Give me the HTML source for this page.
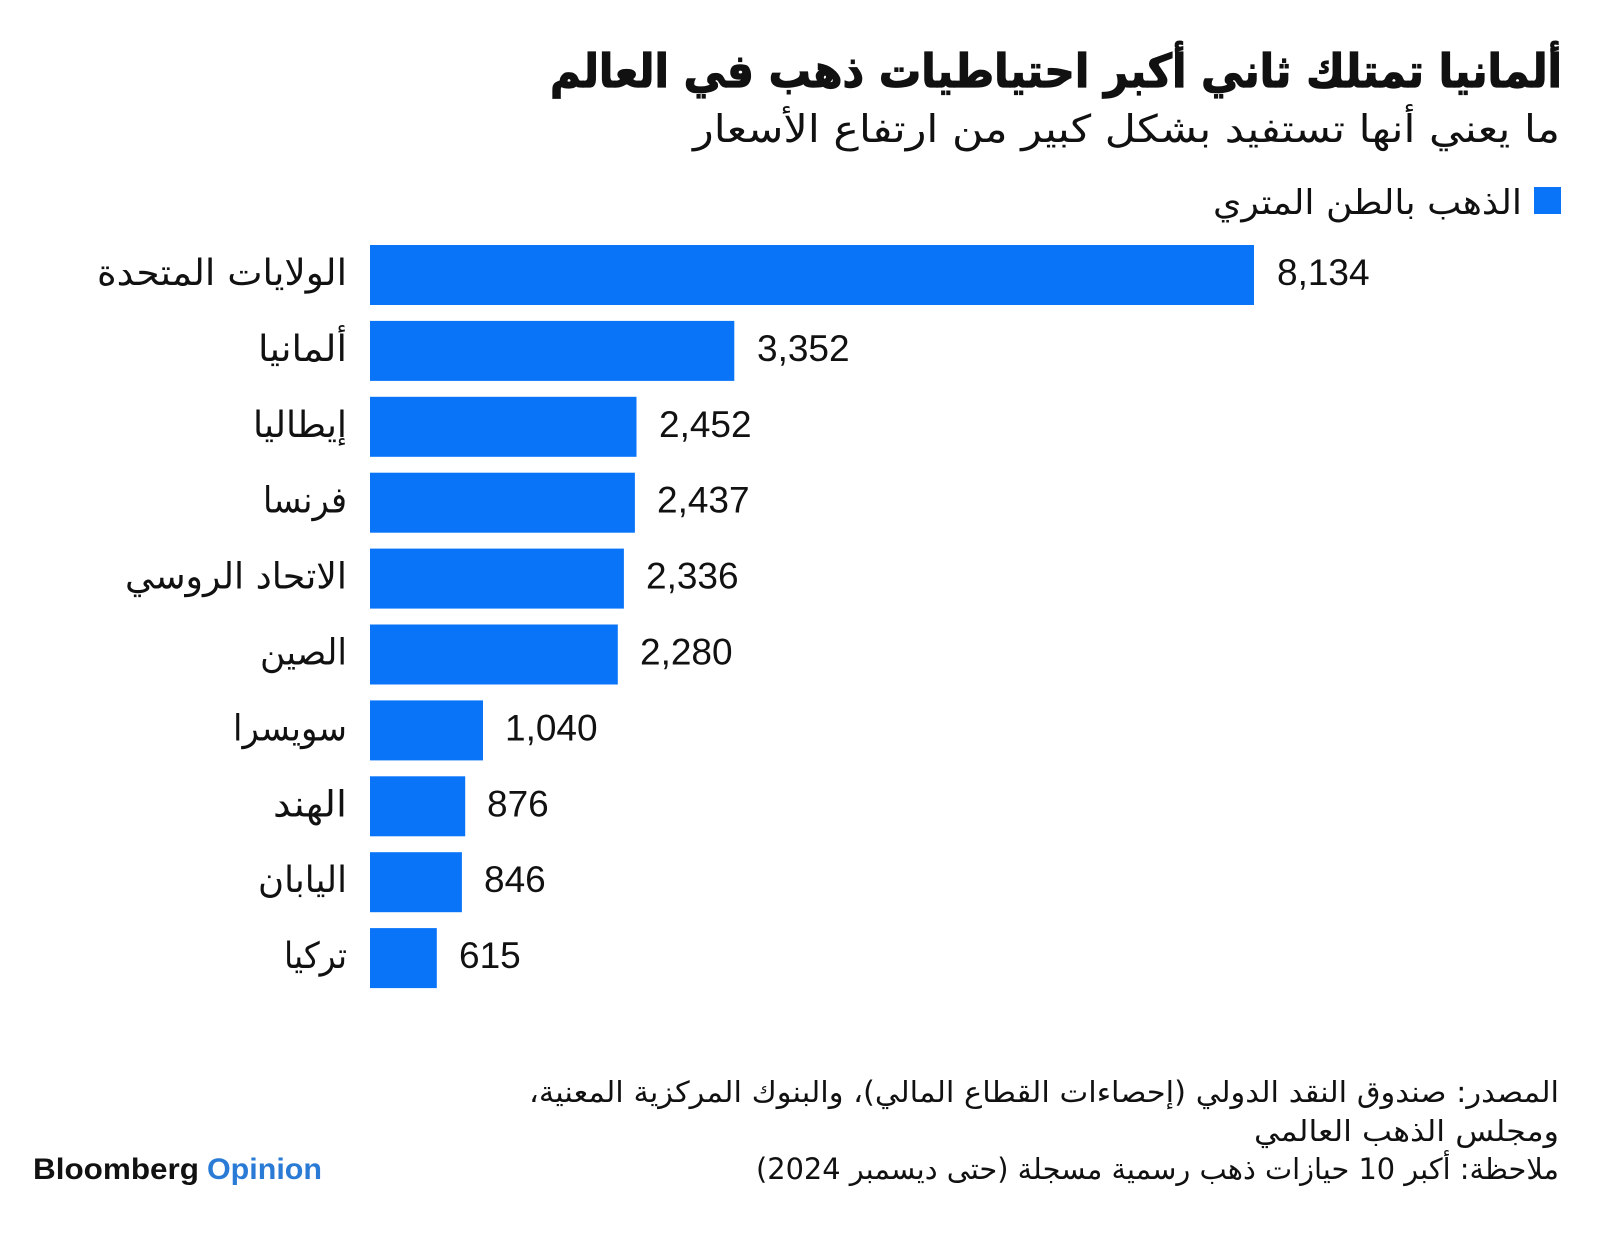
<!DOCTYPE html>
<html>
<head>
<meta charset="utf-8">
<style>
  html, body { margin: 0; padding: 0; background: #ffffff; }
  svg { display: block; }
  .ar { font-family: "DejaVu Sans", "Liberation Sans", sans-serif; fill: #111111; }
  .num { font-family: "Liberation Sans", sans-serif; fill: #111111; font-size: 37px; }
</style>
</head>
<body>
<svg width="1600" height="1234" viewBox="0 0 1600 1234" xmlns="http://www.w3.org/2000/svg">
  <rect x="0" y="0" width="1600" height="1234" fill="#ffffff"/>

  <!-- Title -->
  <text class="ar" x="550" y="87" font-size="46" font-weight="bold" stroke="#111111" stroke-width="1.2" textLength="1012" lengthAdjust="spacingAndGlyphs">ألمانيا تمتلك ثاني أكبر احتياطيات ذهب في العالم</text>
  <!-- Subtitle -->
  <text class="ar" x="693" y="142" font-size="38" textLength="867" lengthAdjust="spacingAndGlyphs">ما يعني أنها تستفيد بشكل كبير من ارتفاع الأسعار</text>

  <!-- Legend -->
  <rect x="1534" y="187" width="27" height="27" fill="#0a74f9"/>
  <text class="ar" x="1213" y="214" font-size="34" textLength="309" lengthAdjust="spacingAndGlyphs">الذهب بالطن المتري</text>

  <!-- Bars -->
  <g fill="#0a74f9">
    <rect x="370" y="245" width="884" height="60"/>
    <rect x="370" y="320.9" width="364.3" height="60"/>
    <rect x="370" y="396.8" width="266.5" height="60"/>
    <rect x="370" y="472.7" width="264.9" height="60"/>
    <rect x="370" y="548.6" width="253.9" height="60"/>
    <rect x="370" y="624.5" width="247.8" height="60"/>
    <rect x="370" y="700.4" width="113" height="60"/>
    <rect x="370" y="776.3" width="95.2" height="60"/>
    <rect x="370" y="852.2" width="91.9" height="60"/>
    <rect x="370" y="928.1" width="66.8" height="60"/>
  </g>

  <!-- Country labels -->
  <g font-size="36">
    <text class="ar" x="97" y="285" textLength="250" lengthAdjust="spacingAndGlyphs">الولايات المتحدة</text>
    <text class="ar" x="258" y="360.9" textLength="89" lengthAdjust="spacingAndGlyphs">ألمانيا</text>
    <text class="ar" x="253" y="436.8" textLength="94" lengthAdjust="spacingAndGlyphs">إيطاليا</text>
    <text class="ar" x="263" y="512.7" textLength="84" lengthAdjust="spacingAndGlyphs">فرنسا</text>
    <text class="ar" x="125" y="588.6" textLength="222" lengthAdjust="spacingAndGlyphs">الاتحاد الروسي</text>
    <text class="ar" x="260" y="664.5" textLength="87" lengthAdjust="spacingAndGlyphs">الصين</text>
    <text class="ar" x="233" y="740.4" textLength="114" lengthAdjust="spacingAndGlyphs">سويسرا</text>
    <text class="ar" x="273" y="816.3" textLength="74" lengthAdjust="spacingAndGlyphs">الهند</text>
    <text class="ar" x="258" y="892.2" textLength="89" lengthAdjust="spacingAndGlyphs">اليابان</text>
    <text class="ar" x="284" y="968.1" textLength="63" lengthAdjust="spacingAndGlyphs">تركيا</text>
  </g>

  <!-- Values -->
  <text class="num" x="1277" y="285">8,134</text>
  <text class="num" x="757" y="360.9">3,352</text>
  <text class="num" x="659" y="436.8">2,452</text>
  <text class="num" x="657" y="512.7">2,437</text>
  <text class="num" x="646" y="588.6">2,336</text>
  <text class="num" x="640" y="664.5">2,280</text>
  <text class="num" x="505" y="740.4">1,040</text>
  <text class="num" x="487" y="816.3">876</text>
  <text class="num" x="484" y="892.2">846</text>
  <text class="num" x="459" y="968.1">615</text>

  <!-- Footer -->
  <g font-size="29">
    <text class="ar" x="529" y="1102" textLength="1030" lengthAdjust="spacingAndGlyphs">المصدر: صندوق النقد الدولي (إحصاءات القطاع المالي)، والبنوك المركزية المعنية،&#x200F;</text>
    <text class="ar" x="1254" y="1141" textLength="305" lengthAdjust="spacingAndGlyphs">ومجلس الذهب العالمي</text>
    <text class="ar" x="756" y="1179" textLength="803" lengthAdjust="spacingAndGlyphs">ملاحظة: أكبر 10 حيازات ذهب رسمية مسجلة (حتى ديسمبر 2024)&#x200F;</text>
  </g>

  <!-- Logo -->
  <text x="33" y="1179" font-family="Liberation Sans, sans-serif" font-weight="bold" font-size="30" fill="#111111" textLength="166" lengthAdjust="spacingAndGlyphs">Bloomberg</text>
  <text x="207" y="1179" font-family="Liberation Sans, sans-serif" font-weight="bold" font-size="30" fill="#2a7bd5" textLength="115" lengthAdjust="spacingAndGlyphs">Opinion</text>
</svg>
</body>
</html>
